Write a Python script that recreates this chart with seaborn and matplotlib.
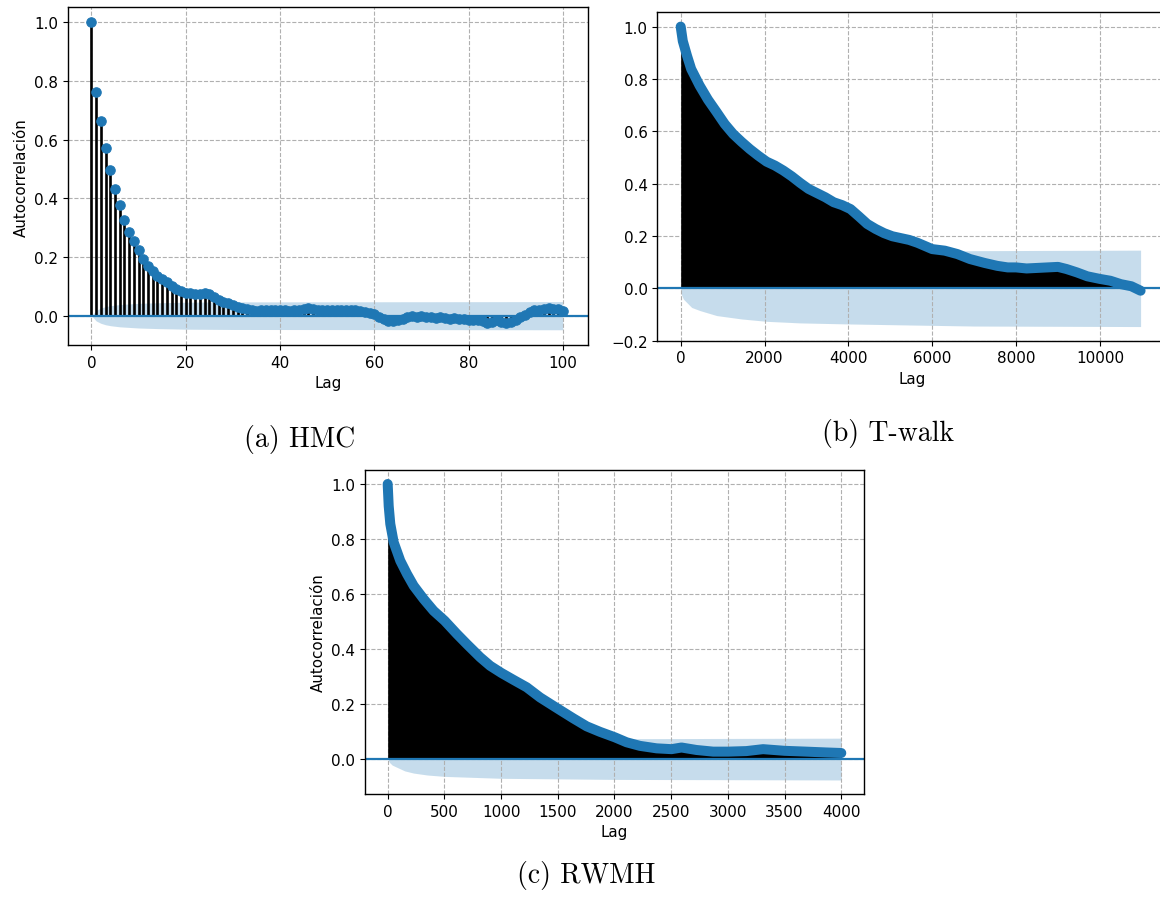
import numpy as np
import matplotlib
matplotlib.use("Agg")
import matplotlib.pyplot as plt
import seaborn as sns

# ---- HMC: autocorrelation at every lag 0..100 ----
hmc_lags = list(range(101))
hmc_acf = [
    1.000, 0.763, 0.663, 0.573, 0.497, 0.433, 0.376, 0.327, 0.286, 0.253,
    0.223, 0.193, 0.168, 0.153, 0.135, 0.125, 0.115, 0.102, 0.090, 0.083,
    0.078, 0.076, 0.075, 0.075, 0.076, 0.074, 0.062, 0.054, 0.048, 0.042,
    0.036, 0.030, 0.025, 0.022, 0.018, 0.016, 0.018, 0.021, 0.020, 0.018,
    0.019, 0.018, 0.017, 0.018, 0.020, 0.024, 0.027, 0.022, 0.020, 0.019,
    0.020, 0.020, 0.019, 0.020, 0.020, 0.019, 0.018, 0.017, 0.014, 0.010,
    0.005, -0.004, -0.012, -0.017, -0.017, -0.014, -0.010, -0.004, -0.002, -0.003,
    -0.002, -0.004, -0.006, -0.007, -0.006, -0.009, -0.010, -0.009, -0.011, -0.012,
    -0.014, -0.015, -0.014, -0.018, -0.024, -0.020, -0.016, -0.022, -0.025, -0.020,
    -0.015, -0.006, 0.003, 0.012, 0.018, 0.020, 0.024, 0.025, 0.023, 0.022,
    0.016,
]
hmc_band_lags = [0, 1, 2, 3, 4, 5, 6, 8, 10, 14, 20, 30, 100]
hmc_band = [0, 0.018, 0.026, 0.031, 0.034, 0.036, 0.038, 0.040, 0.042, 0.044,
            0.046, 0.047, 0.048]

# ---- T-walk ----
tw_lags = [0, 50, 150, 250, 450, 650, 850, 1050, 1250, 1450, 1650, 1850, 2050,
           2250, 2450, 2650, 2850, 3050, 3250, 3450, 3650, 3850, 4050, 4250,
           4450, 4650, 4850, 5050, 5250, 5450, 5650, 6000, 6300, 6600, 6900,
           7250, 7550, 7800, 8000, 8250, 8500, 8750, 9000, 9200, 9450, 9700,
           10000, 10250, 10500, 10750, 10970]
tw_acf = [1.000, 0.945, 0.889, 0.838, 0.775, 0.721, 0.675, 0.628, 0.590, 0.560,
          0.532, 0.507, 0.484, 0.469, 0.450, 0.428, 0.403, 0.380, 0.364, 0.348,
          0.329, 0.318, 0.303, 0.275, 0.246, 0.227, 0.211, 0.199, 0.192, 0.185,
          0.174, 0.150, 0.144, 0.131, 0.112, 0.097, 0.086, 0.080, 0.080, 0.076,
          0.078, 0.080, 0.082, 0.074, 0.061, 0.046, 0.036, 0.029, 0.016, 0.008,
          -0.009]
tw_band_lags = [0, 20, 64, 262, 461, 859, 1455, 2052, 2847, 4000, 5471, 7000, 10970]
tw_band = [0, 0.025, 0.041, 0.073, 0.085, 0.104, 0.117, 0.126, 0.132, 0.136,
           0.140, 0.144, 0.146]

# ---- RWMH ----
rw_lags = [0, 9, 23, 53, 111, 170, 229, 317, 405, 502, 610, 698, 816, 904,
           1003, 1109, 1226, 1344, 1505, 1637, 1755, 1872, 2004, 2107, 2224,
           2371, 2503, 2591, 2723, 2870, 3002, 3163, 3310, 3500, 3691, 3867,
           4000]
rw_acf = [1.000, 0.920, 0.855, 0.788, 0.721, 0.673, 0.630, 0.582, 0.539, 0.503,
          0.455, 0.418, 0.370, 0.339, 0.313, 0.288, 0.261, 0.224, 0.182, 0.148,
          0.119, 0.099, 0.079, 0.061, 0.048, 0.039, 0.036, 0.042, 0.033, 0.027,
          0.027, 0.029, 0.036, 0.030, 0.027, 0.024, 0.022]
rw_band_lags = [0, 15, 40, 82, 150, 229, 350, 502, 1003, 2004, 4000]
rw_band = [0, 0.012, 0.022, 0.030, 0.043, 0.051, 0.058, 0.063, 0.070, 0.074,
           0.076]

captions = ["(a) HMC", "(b) T-walk", "(c) RWMH"]

sns.set_theme(style="ticks", rc={
    "axes.edgecolor": "black",
    "axes.linewidth": 1.0,
    "axes.grid": True,
    "axes.axisbelow": "line",
    "grid.linestyle": "--",
    "grid.color": "#b0b0b0",
    "grid.linewidth": 0.8,
    "xtick.color": "black",
    "ytick.color": "black",
    "xtick.major.size": 3.5,
    "ytick.major.size": 3.5,
    "xtick.major.width": 0.8,
    "ytick.major.width": 0.8,
    "xtick.labelsize": 10.9,
    "ytick.labelsize": 10.9,
    "axes.labelsize": 10.9,
    "axes.labelcolor": "black",
    "text.color": "black",
})
plt.rcParams["font.family"] = ["DejaVu Sans"]

W, H = 1160, 903
fig = plt.figure(figsize=(W / 100, H / 100), dpi=100)
fig.patch.set_facecolor("white")


def box(left, right, top, bottom):
    return [left / W, 1 - bottom / H, (right - left) / W, (bottom - top) / H]


blue = "#1f77b4"

ax_a = fig.add_axes(box(67.7, 588.2, 8.3, 346))
ax_b = fig.add_axes(box(657.3, 1167.0, 12.7, 341.7))
ax_c = fig.add_axes(box(365, 864.2, 470.7, 795))

# (a) HMC: stems plus markers
ax = ax_a
ax.vlines(hmc_lags, 0, hmc_acf, color="black", lw=1.9, zorder=2)
ax.axhline(0, color=blue, lw=1.6, zorder=2)
sns.scatterplot(x=hmc_lags, y=hmc_acf, ax=ax, color=blue, s=46,
                edgecolor=blue, linewidth=0.8, zorder=3, legend=False)
ax.fill_between(hmc_band_lags, [-v for v in hmc_band], hmc_band,
                color=blue, alpha=0.25, lw=0, zorder=1)
ax.set_xlim(-5.05, 105.4)
ax.set_ylim(-0.0999, 1.051)
ax.set_xticks(range(0, 101, 20))
ax.set_yticks(np.round(np.arange(0, 1.01, 0.2), 1))
ax.set_ylabel("Autocorrelación")
ax.set_xlabel("Lag")


def dense_acf(ax, lags, acf, band_lags, band):
    ax.fill_between(lags, 0, acf, color="black", lw=0, zorder=2)
    ax.axhline(0, color=blue, lw=1.6, zorder=2)
    ax.fill_between(band_lags, [-v for v in band], band,
                    color=blue, alpha=0.25, lw=0, zorder=1)
    sns.lineplot(x=lags, y=acf, ax=ax, color=blue, lw=7.2,
                 zorder=3, legend=False, sort=False)
    ln = ax.lines[-1]
    ln.set_solid_capstyle("round")
    ln.set_solid_joinstyle("round")


# (b) T-walk
ax = ax_b
dense_acf(ax, tw_lags, tw_acf, tw_band_lags, tw_band)
ax.set_xlim(-558, 11600)
ax.set_ylim(-0.2, 1.057)
ax.set_xticks(range(0, 10001, 2000))
ax.set_yticks(np.round(np.arange(-0.2, 1.01, 0.2), 1))
ax.set_xlabel("Lag")
ax.set_ylabel("")

# (c) RWMH
ax = ax_c
dense_acf(ax, rw_lags, rw_acf, rw_band_lags, rw_band)
ax.set_xlim(-200, 4202)
ax.set_ylim(-0.127, 1.052)
ax.set_xticks(range(0, 4001, 500))
ax.set_yticks(np.round(np.arange(0, 1.01, 0.2), 1))
ax.set_xlabel("Lag")
ax.set_ylabel("Autocorrelación")

for ax in (ax_a, ax_b, ax_c):
    ax.grid(True, linestyle="--", color="#b0b0b0", linewidth=0.8)
    for s in ax.spines.values():
        s.set_visible(True)

# sub-figure captions
for (cx, cy), text in zip([(300, 447), (887.5, 441), (586.6, 883)], captions):
    fig.text(cx / W, 1 - cy / H, text, ha="center", va="baseline",
             fontsize=20, family="cmr10")

fig.savefig("out.png", dpi=100, facecolor="white")
